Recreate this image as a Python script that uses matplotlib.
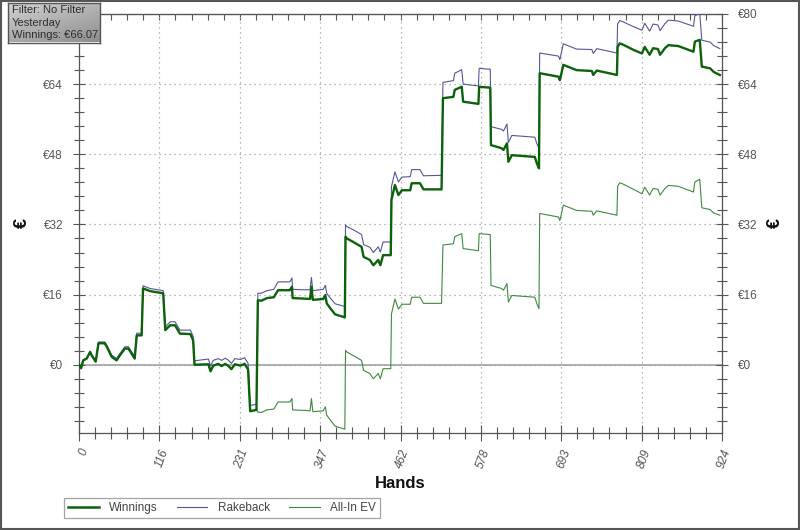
import matplotlib
matplotlib.use('Agg')
import matplotlib.pyplot as plt
import numpy as np
from matplotlib.ticker import FixedLocator, MultipleLocator
from matplotlib.lines import Line2D
from matplotlib.patches import Rectangle
from matplotlib.colors import LinearSegmentedColormap

# ---------------- data ----------------
hands = [0, 3, 6, 11, 16, 18, 24, 28, 37, 40, 47, 54, 59, 66, 71, 80, 83, 90, 92, 102,
         121, 124, 131, 138, 141, 145, 160, 164, 166, 186, 189, 193, 200, 205, 210, 215,
         219, 224, 232, 238, 243, 246, 255, 257, 262, 270, 280, 286, 303, 306, 307, 322,
         332, 334, 336, 351, 354, 356, 361, 368, 382, 383, 385, 394, 406, 409, 418, 423,
         430, 433, 437, 448, 449, 454, 459, 464, 476, 478, 490, 495, 521, 523, 538, 540,
         550, 552, 574, 575, 591, 592, 607, 610, 615, 617, 622, 655, 658, 661, 662, 689,
         691, 696, 715, 737, 739, 744, 773, 774, 777, 782, 797, 809, 813, 820, 825, 832,
         835, 842, 847, 861, 883, 885, 892, 895, 907, 912, 921]

winnings = [0.0, -0.8, 1.0, 1.4, 2.9, 2.2, 0.7, 4.9, 4.9, 4.1, 1.8, 1.0, 2.2, 3.7, 3.7, 1.4, 6.7, 6.7, 17.4, 16.8,
            16.3, 7.9, 9.0, 9.0, 8.2, 7.1, 7.0, 5.6, 0.0, 0.1, -1.5, -0.2, 0.2, -0.3, 0.2, -0.3,
            -1.0, 0.1, -0.2, 0.2, -1.1, -10.6, -10.3, 14.7, 14.6, 15.2, 15.4, 17.0, 17.0, 17.8, 15.2, 15.1,
            15.0, 17.8, 14.8, 15.0, 15.9, 14.0, 12.9, 11.5, 10.8, 29.2, 28.8, 28.0, 26.9, 24.6, 23.9, 22.7,
            23.9, 22.7, 25.0, 25.0, 37.6, 41.0, 38.7, 39.8, 39.8, 41.4, 41.4, 40.0, 40.0, 60.8, 61.1, 62.7,
            63.4, 60.0, 59.5, 63.4, 63.2, 50.1, 49.4, 49.0, 50.5, 46.3, 47.8, 47.4, 45.9, 44.8, 66.5, 65.7,
            64.9, 68.4, 67.2, 67.0, 66.1, 67.1, 66.1, 72.5, 73.3, 73.0, 71.8, 71.0, 72.5, 70.7, 72.2, 72.0,
            70.7, 72.2, 72.9, 72.7, 71.4, 73.7, 74.1, 68.0, 67.6, 66.8, 66.07]

rakeback = [0.0, -0.7, 1.1, 1.5, 3.1, 2.4, 0.9, 5.2, 5.2, 4.4, 2.2, 1.4, 2.6, 4.1, 4.1, 1.9, 7.2, 7.2, 18.0, 17.4,
            16.9, 8.6, 9.8, 9.8, 9.0, 7.9, 7.9, 6.5, 0.9, 1.3, -0.3, 1.0, 1.4, 1.0, 1.5, 1.0,
            0.3, 1.4, 1.2, 1.6, 0.3, -9.3, -9.0, 16.3, 16.3, 16.9, 17.2, 18.9, 18.9, 19.8, 17.2, 17.1,
            17.1, 19.9, 16.9, 17.2, 18.1, 16.3, 15.2, 13.9, 13.3, 31.9, 31.5, 30.8, 29.7, 27.4, 26.8, 25.6,
            26.9, 25.7, 28.0, 28.0, 40.6, 44.0, 41.7, 42.8, 42.9, 44.5, 44.5, 43.1, 43.2, 64.4, 64.8, 66.5,
            67.3, 64.0, 63.6, 67.6, 67.4, 54.3, 53.7, 53.3, 54.9, 50.7, 52.3, 51.9, 50.4, 49.4, 71.1, 70.4,
            69.6, 73.2, 72.0, 71.9, 71.0, 72.1, 71.1, 77.7, 78.5, 78.2, 77.1, 76.3, 77.9, 76.1, 77.7, 77.5,
            76.2, 77.8, 78.6, 78.4, 77.2, 79.6, 80.1, 74.0, 73.6, 72.8, 72.1]

allin_ev = [0.0, -0.8, 1.0, 1.4, 2.9, 2.2, 0.7, 4.9, 4.9, 4.1, 1.8, 1.0, 2.2, 3.7, 3.7, 1.4, 6.7, 6.7, 17.4, 16.8,
            16.3, 7.9, 9.0, 9.0, 8.2, 7.1, 7.0, 5.6, 0.0, 0.1, -1.5, -0.2, 0.2, -0.3, 0.2, -0.3,
            -1.0, 0.1, -0.2, 0.2, -1.1, -10.6, -10.3, -10.8, -10.9, -10.3, -10.1, -8.5, -8.5, -7.7, -10.3, -10.4,
            -10.5, -7.7, -10.7, -10.5, -9.6, -11.5, -12.6, -14.0, -14.7, 3.3, 2.9, 2.1, 1.0, -1.3, -2.0, -3.2,
            -2.0, -3.2, -0.9, -0.9, 11.6, 15.0, 12.7, 13.8, 13.8, 15.4, 15.4, 14.0, 14.0, 27.3, 27.6, 29.2,
            29.9, 26.5, 26.0, 29.9, 29.7, 18.1, 17.4, 17.0, 18.5, 14.3, 15.8, 15.4, 13.9, 12.8, 34.5, 33.7,
            32.9, 36.4, 35.2, 35.0, 34.1, 35.1, 34.1, 40.7, 41.5, 41.2, 40.0, 39.0, 40.5, 38.7, 40.2, 40.0,
            38.7, 40.2, 40.9, 40.7, 39.4, 41.7, 42.3, 35.8, 35.4, 34.6, 34.1]

series_names = ['Winnings', 'Rakeback', 'All-In EV']
x_ticks = [0, 115.5, 231, 346.5, 462, 577.5, 693, 808.5, 924]
x_tick_labels = ['0', '116', '231', '347', '462', '578', '693', '809', '924']
y_ticks = [0, 16, 32, 48, 64, 80]
y_tick_labels = ['€0', '€16', '€32', '€48', '€64', '€80']
info_lines = ['Filter: No Filter', 'Yesterday', 'Winnings: €66.07']
x_label = 'Hands'
y_label = '€'

# ---------------- styling ----------------
plt.rcParams['font.family'] = ['Liberation Sans', 'DejaVu Sans']
W, H = 800, 530
fig = plt.figure(figsize=(8, 5.3), dpi=100)
fig.patch.set_facecolor('white')

L, R, T, B = 79, 722, 14, 432.7
ax = fig.add_axes([L / W, 1 - B / H, (R - L) / W, (B - T) / H])

c_win = '#0b620b'
c_rake = '#55559a'
c_ev = '#3e8a3e'
axis_col = '#555555'

ax.set_xlim(0, 924)
ax.set_ylim(-15.5, 80)

ax.grid(True, which='major', linestyle=(0, (1, 3)), color='#a0a0a0', linewidth=0.9)
ax.axhline(0, color='#9a9a9a', linewidth=1.1, zorder=1)

ax.plot(hands, allin_ev, color=c_ev, linewidth=0.8, zorder=3)
ax.plot(hands, rakeback, color=c_rake, linewidth=0.8, zorder=4)
ax.plot(hands, winnings, color=c_win, linewidth=1.7, zorder=5)

ax.xaxis.set_major_locator(FixedLocator(x_ticks))
ax.set_xticklabels(x_tick_labels, rotation=70, ha='right', rotation_mode='anchor',
                   fontstyle='italic', color='#555555', fontsize=8.5)
ax.xaxis.set_minor_locator(MultipleLocator(924 / 40))
ax.yaxis.set_major_locator(FixedLocator(y_ticks))
ax.set_yticklabels(y_tick_labels, color='#555555', fontsize=8.5)
ax.yaxis.set_minor_locator(MultipleLocator(3.2))

ax.yaxis.set_ticks_position('both')
ax.tick_params(axis='y', which='both', labelright=True, direction='inout', color=axis_col, width=0.8, pad=7)
ax.tick_params(axis='y', which='major', length=9)
ax.tick_params(axis='y', which='minor', length=7)
ax.tick_params(axis='x', which='both', direction='inout', color=axis_col, width=0.8, top=False, pad=5)
ax.tick_params(axis='x', which='major', length=11)
ax.tick_params(axis='x', which='minor', length=8)

# the left-hand top label is covered by the info box in the reference
ax.yaxis.get_major_ticks()[-1].label1.set_visible(False)

for s in ax.spines.values():
    s.set_color(axis_col)
    s.set_linewidth(0.9)

sec = ax.secondary_xaxis('top')
sec.xaxis.set_major_locator(FixedLocator(x_ticks))
sec.xaxis.set_minor_locator(MultipleLocator(924 / 40))
sec.tick_params(which='both', direction='in', length=4, color=axis_col, width=0.8, labeltop=False)
sec.spines['top'].set_color(axis_col)

# axis titles
fig.text(400 / W, 1 - 484 / H, x_label, ha='center', va='center', fontsize=12, fontweight='bold', color='#111111')
fig.text(22 / W, 1 - 223 / H, y_label, ha='center', va='center', fontsize=13, fontweight='bold',
         rotation=90, color='#111111')
fig.text(775 / W, 1 - 223 / H, y_label, ha='center', va='center', fontsize=13, fontweight='bold',
         rotation=90, color='#111111')

# legend
handles = [Line2D([], [], color=c_win, lw=1.8),
           Line2D([], [], color=c_rake, lw=0.8),
           Line2D([], [], color=c_ev, lw=0.8)]
leg = fig.legend(handles, series_names, loc='center', bbox_to_anchor=(222 / W, 1 - 508 / H), ncol=3,
                 fontsize=8.5, frameon=True, fancybox=False, handlelength=2.6, columnspacing=1.6,
                 handletextpad=0.9, borderpad=0.35, labelcolor='#444444')
leg.get_frame().set_edgecolor('#8c8c8c')
leg.get_frame().set_linewidth(0.9)

# info box (top-left)
bax = fig.add_axes([8 / W, 1 - 42.5 / H, 92 / W, 40 / H])
gx, gy = np.meshgrid(np.linspace(0, 1, 60), np.linspace(0, 1, 30))
grad = 0.6 * gy + 0.4 * gx
gcmap = LinearSegmentedColormap.from_list('boxgrad', ['#d2d2d2', '#8e8e8e'])
bax.imshow(grad, cmap=gcmap, vmin=0, vmax=1, aspect='auto', extent=[0, 1, 0, 1], origin='upper')
bax.set_xticks([])
bax.set_yticks([])
for s in bax.spines.values():
    s.set_color('#555555')
    s.set_linewidth(1.0)
bax.text(0.04, 0.5, '\n'.join(info_lines), transform=bax.transAxes, ha='left', va='center',
         fontsize=8, linespacing=1.3, color='#2e2e2e')

# outer border
fig.add_artist(Rectangle((0.001, 0.001), 0.998, 0.997, transform=fig.transFigure, fill=False,
                         edgecolor='#555555', linewidth=1.5))

fig.savefig('out.png', dpi=100)
